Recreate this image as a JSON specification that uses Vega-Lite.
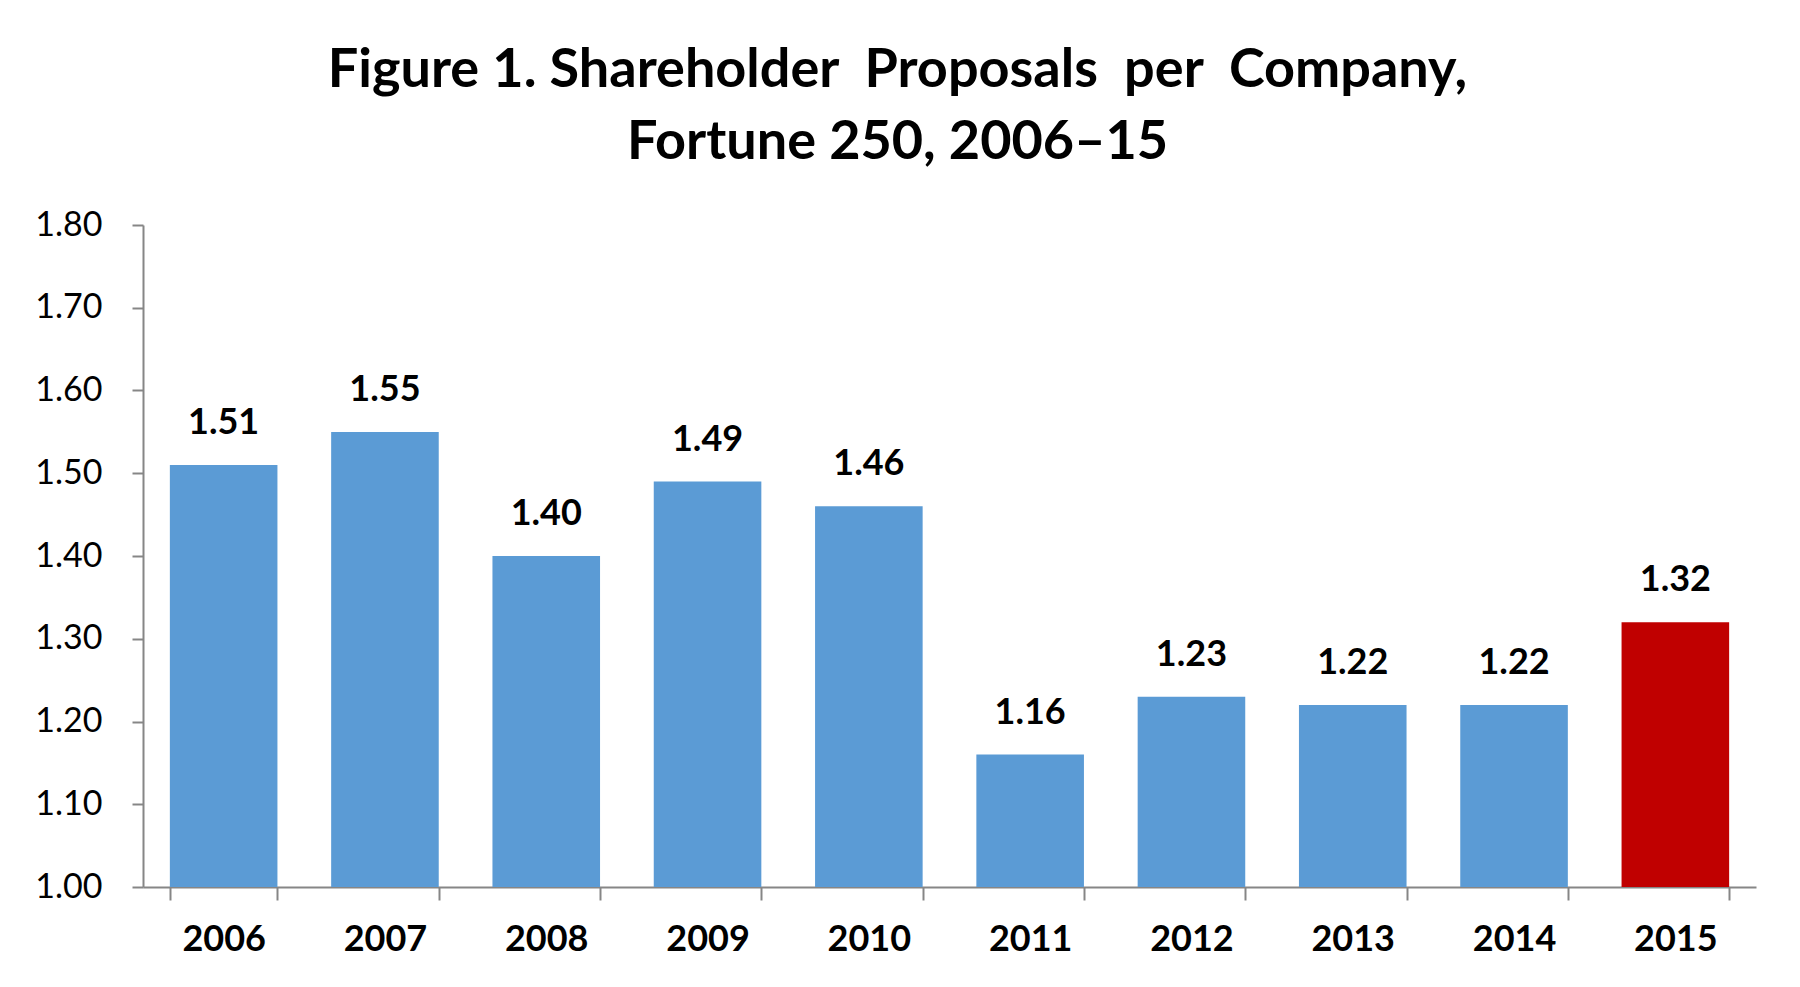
{
  "$schema": "https://vega.github.io/schema/vega-lite/v6.json",
  "autosize": "none",
  "width": 1613,
  "height": 662,
  "padding": {"left": 143, "top": 225, "right": 44, "bottom": 100},
  "background": "white",
  "title": {
    "text": ["Figure 1. Shareholder \u00a0Proposals \u00a0per \u00a0Company,", "Fortune 250, 2006–15"],
    "anchor": "middle",
    "dx": -52,
    "offset": 38,
    "font": "Lato",
    "fontWeight": "bold",
    "fontSize": 54,
    "lineHeight": 72,
    "color": "#000000"
  },
  "data": {
    "values": [
      {"year": "2006", "proposals": 1.51},
      {"year": "2007", "proposals": 1.55},
      {"year": "2008", "proposals": 1.40},
      {"year": "2009", "proposals": 1.49},
      {"year": "2010", "proposals": 1.46},
      {"year": "2011", "proposals": 1.16},
      {"year": "2012", "proposals": 1.23},
      {"year": "2013", "proposals": 1.22},
      {"year": "2014", "proposals": 1.22},
      {"year": "2015", "proposals": 1.32}
    ]
  },
  "encoding": {
    "x": {
      "field": "year",
      "type": "nominal",
      "title": null,
      "scale": {"paddingInner": 0.333, "paddingOuter": 0.1665},
      "axis": {
        "labelAngle": 0,
        "labelFont": "Lato",
        "labelFontWeight": "bold",
        "labelFontSize": 36,
        "labelColor": "#000000",
        "labelPadding": 22,
        "tickBand": "extent",
        "tickSize": 13,
        "tickColor": "#868686",
        "tickWidth": 2,
        "domainColor": "#868686",
        "domainWidth": 2
      }
    },
    "y": {
      "field": "proposals",
      "type": "quantitative",
      "title": null,
      "scale": {"domain": [1, 1.8], "zero": false, "nice": false},
      "axis": {
        "values": [1.0, 1.1, 1.2, 1.3, 1.4, 1.5, 1.6, 1.7, 1.8],
        "format": ".2f",
        "grid": false,
        "labelFont": "Lato",
        "labelFontSize": 34,
        "labelColor": "#000000",
        "labelPadding": 30,
        "tickSize": 11,
        "tickColor": "#868686",
        "tickWidth": 2,
        "domainColor": "#868686",
        "domainWidth": 2
      }
    }
  },
  "layer": [
    {
      "mark": {"type": "bar", "clip": true},
      "encoding": {
        "color": {
          "condition": {"test": "datum.year === '2015'", "value": "#C00000"},
          "value": "#5B9BD5"
        }
      }
    },
    {
      "mark": {
        "type": "text",
        "baseline": "alphabetic",
        "dy": -31,
        "font": "Lato",
        "fontWeight": "bold",
        "fontSize": 36,
        "color": "#000000"
      },
      "encoding": {
        "text": {"field": "proposals", "type": "quantitative", "format": ".2f"}
      }
    }
  ],
  "config": {
    "view": {"stroke": null}
  }
}
